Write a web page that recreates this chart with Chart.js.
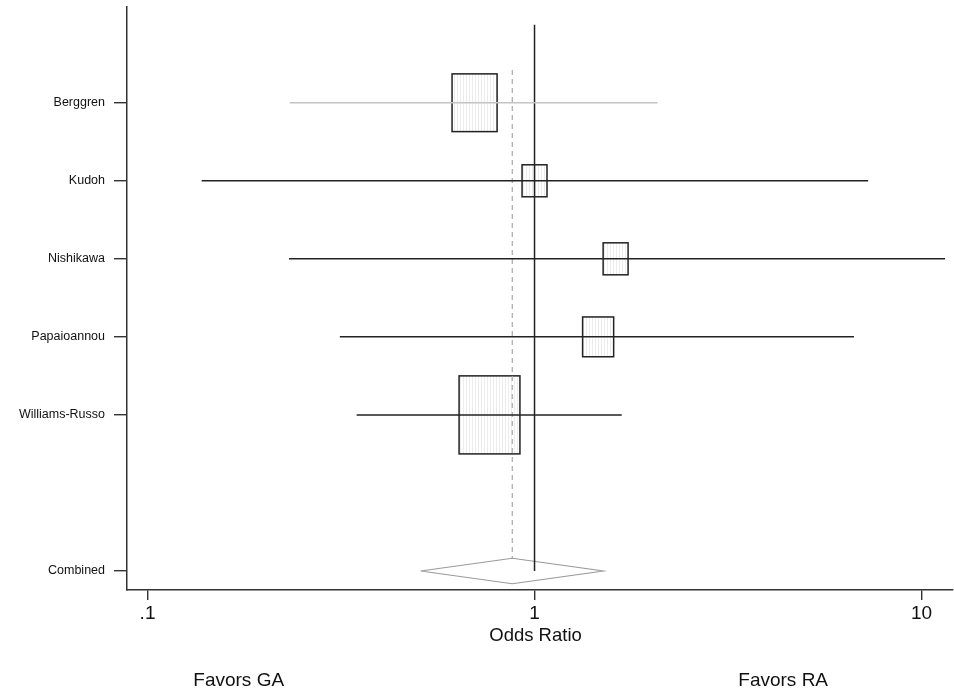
<!DOCTYPE html>
<html>
<head>
<meta charset="utf-8">
<script src="https://cdn.jsdelivr.net/npm/chart.js@4.4.1/dist/chart.umd.min.js"></script>
<style>
  body { margin: 0; background: #fff; }
  #wrap { width: 954px; height: 692px; }
</style>
</head>
<body>
<div id="wrap"><canvas id="forest" width="954" height="692"></canvas></div>
<script>
// study data
const studies = ['Berggren', 'Kudoh', 'Nishikawa', 'Papaioannou', 'Williams-Russo'];
const studyRows = [1, 2, 3, 4, 5];
const oddsRatio = [0.70, 1.00, 1.62, 1.46, 0.765];
const lowerCI = [0.233, 0.138, 0.232, 0.314, 0.347];
const upperCI = [2.08, 7.28, 11.5, 6.69, 1.68];
const boxWeight = [0.74, 0.41, 0.41, 0.51, 1.0];   // box height, in rows

const combinedLabel = 'Combined';
const combinedRow = 7;
const combinedOR = 0.876;
const combinedLower = 0.508;
const combinedUpper = 1.507;

const xTickValues = [0.1, 1, 10];
const xTickLabels = ['.1', '1', '10'];
const xTitle = 'Odds Ratio';
const favorsLabels = ['Favors GA', 'Favors RA'];
const favorsAt = [0.172, 4.39];

const FONT = '"Liberation Sans", Arial, Helvetica, sans-serif';
const INK = '#333';

// light vertical hatching like the stata boxes
function makeHatch() {
    let c = document.createElement('canvas');
    c.width = 3; c.height = 3;
    let g = c.getContext('2d');
    g.fillStyle = '#ffffff';
    g.fillRect(0, 0, 3, 3);
    g.fillStyle = '#ececec';
    g.fillRect(1, 0, 1, 3);
    return g.createPattern(c, 'repeat');
}

let datasets = [];

// confidence intervals
studies.forEach(function (name, i) {
    datasets.push({
        label: name,
        data: [{ x: lowerCI[i], y: studyRows[i] }, { x: upperCI[i], y: studyRows[i] }],
        borderColor: i === 0 ? '#c4c4c4' : '#222',
        borderWidth: 1.5,
        pointRadius: 0,
        showLine: true
    });
});

// line of no effect
datasets.push({
    label: 'null',
    data: [{ x: 1, y: 0 }, { x: 1, y: combinedRow }],
    borderColor: '#222',
    borderWidth: 1.5,
    pointRadius: 0,
    showLine: true
});

// overall effect, dashed
datasets.push({
    label: 'overall',
    data: [{ x: combinedOR, y: 0.58 }, { x: combinedOR, y: combinedRow - 0.16 }],
    borderColor: '#a8a8a8',
    borderWidth: 1.2,
    borderDash: [5, 4],
    pointRadius: 0,
    showLine: true
});

// combined diamond
datasets.push({
    label: combinedLabel,
    data: [
        { x: combinedLower, y: combinedRow },
        { x: combinedOR, y: combinedRow - 0.163 },
        { x: combinedUpper, y: combinedRow },
        { x: combinedOR, y: combinedRow + 0.163 },
        { x: combinedLower, y: combinedRow }
    ],
    borderColor: '#9a9a9a',
    borderWidth: 1.1,
    pointRadius: 0,
    tension: 0,
    showLine: true
});

const boxPlugin = {
    id: 'boxes',
    beforeDatasetsDraw(chart) {
        const ctx = chart.ctx;
        const xs = chart.scales.x, ys = chart.scales.y;
        const rowPx = Math.abs(ys.getPixelForValue(1) - ys.getPixelForValue(0));
        const hatch = makeHatch();
        ctx.save();
        studies.forEach(function (name, i) {
            const cx = xs.getPixelForValue(oddsRatio[i]);
            const cy = ys.getPixelForValue(studyRows[i]);
            const h = boxWeight[i] * rowPx;
            const w = h * 0.78;
            ctx.fillStyle = hatch;
            ctx.fillRect(cx - w / 2, cy - h / 2, w, h);
            ctx.strokeStyle = '#222';
            ctx.lineWidth = 1.5;
            ctx.strokeRect(cx - w / 2, cy - h / 2, w, h);
        });
        ctx.restore();
    },
    afterDraw(chart) {
        const ctx = chart.ctx;
        const xs = chart.scales.x;
        ctx.save();
        ctx.fillStyle = '#111';
        ctx.textAlign = 'center';
        ctx.textBaseline = 'middle';
        ctx.font = '18.5px ' + FONT;
        ctx.fillText(xTitle, xs.getPixelForValue(1) + 1, 636);
        ctx.font = '19px ' + FONT;
        favorsLabels.forEach(function (t, i) {
            ctx.fillText(t, xs.getPixelForValue(favorsAt[i]), 681);
        });
        ctx.restore();
    }
};

const yTickRows = studyRows.concat([combinedRow]);
const yTickNames = studies.concat([combinedLabel]);

new Chart(document.getElementById('forest').getContext('2d'), {
    type: 'scatter',
    data: { datasets: datasets },
    options: {
        responsive: false,
        devicePixelRatio: 1,
        animation: false,
        layout: { padding: { top: 7, right: 1, left: 0, bottom: 0 } },
        plugins: {
            legend: { display: false },
            tooltip: { enabled: false }
        },
        scales: {
            x: {
                type: 'logarithmic',
                min: 0.0885,
                max: 12.06,
                afterBuildTicks: function (scale) {
                    scale.ticks = xTickValues.map(v => ({ value: v }));
                },
                afterFit: function (scale) {
                    scale.height = 102;
                    scale.paddingLeft = 0;
                    scale.paddingRight = 0;
                },
                ticks: {
                    autoSkip: false,
                    maxRotation: 0,
                    padding: 2,
                    color: '#111',
                    font: { family: FONT, size: 19 },
                    callback: function (value) {
                        const k = xTickValues.indexOf(value);
                        return k >= 0 ? xTickLabels[k] : '';
                    }
                },
                grid: { drawOnChartArea: false, drawTicks: true, tickLength: 10, color: INK, lineWidth: 1.4 },
                border: { display: true, color: INK, width: 1.5 }
            },
            y: {
                type: 'linear',
                reverse: true,
                min: -0.227,
                max: 7.244,
                afterBuildTicks: function (scale) {
                    scale.ticks = yTickRows.map(v => ({ value: v }));
                },
                afterFit: function (scale) {
                    scale.width = 127;
                    scale.paddingTop = 0;
                    scale.paddingBottom = 0;
                },
                ticks: {
                    autoSkip: false,
                    padding: 9,
                    color: '#111',
                    font: { family: FONT, size: 12.5 },
                    callback: function (value) {
                        const k = yTickRows.indexOf(value);
                        return k >= 0 ? yTickNames[k] : '';
                    }
                },
                grid: { drawOnChartArea: false, drawTicks: true, tickLength: 13, color: INK, lineWidth: 1.4 },
                border: { display: true, color: INK, width: 1.5 }
            }
        }
    },
    plugins: [boxPlugin]
});
</script>
</body>
</html>
